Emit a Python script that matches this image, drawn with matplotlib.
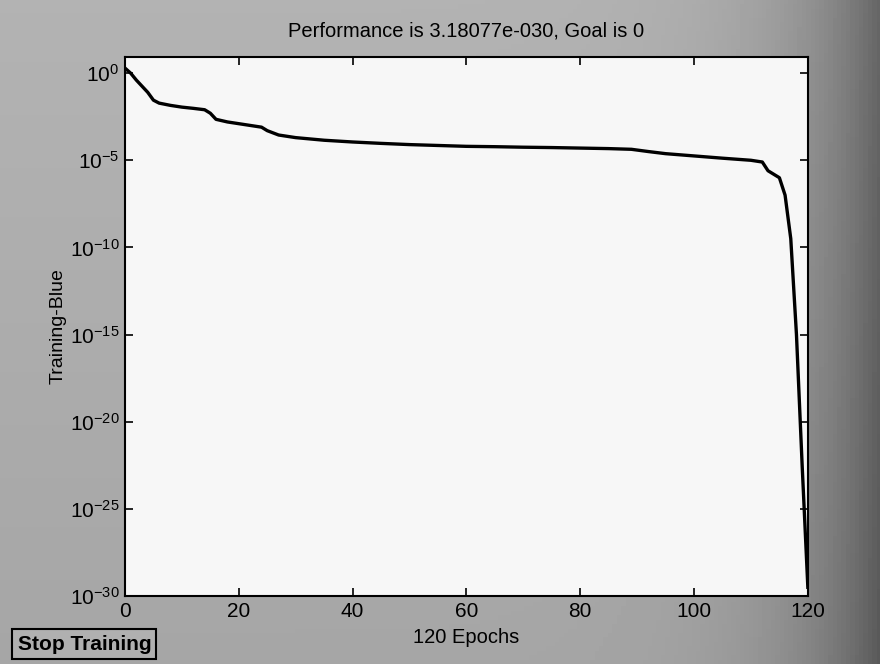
import numpy as np
import matplotlib.pyplot as plt
from matplotlib.ticker import FixedLocator, NullLocator

# training record (epoch, log10 of performance)
epochs = [0, 1, 2, 3, 4, 5, 6, 8, 10, 12, 14, 15, 16, 18, 20, 22, 24, 25, 27,
          30, 35, 40, 45, 50, 55, 60, 65, 70, 75, 80, 85, 89, 92, 95, 100,
          105, 110, 112, 113, 114, 115, 116, 117, 118, 119, 120]
log_perf = [0.29, 0.0, -0.4, -0.75, -1.1, -1.55, -1.72, -1.85, -1.95, -2.02,
            -2.1, -2.3, -2.65, -2.8, -2.9, -3.0, -3.1, -3.3, -3.55,
            -3.7, -3.85, -3.95, -4.03, -4.1, -4.15, -4.2, -4.22, -4.25, -4.27,
            -4.3, -4.33, -4.37, -4.5, -4.62, -4.75,
            -4.88, -5.0, -5.1, -5.6, -5.8, -6.0, -7.0, -9.5, -15.0, -22.5, -29.5]
perf = [10.0 ** v for v in log_perf]

ytick_exp = [0, -5, -10, -15, -20, -25, -30]
xticks = [0, 20, 40, 60, 80, 100, 120]

plt.rcParams['font.family'] = ['Liberation Sans', 'DejaVu Sans']
plt.rcParams['mathtext.fontset'] = 'custom'
plt.rcParams['mathtext.rm'] = 'Liberation Sans'
plt.rcParams['mathtext.it'] = 'Liberation Sans'

fig = plt.figure(figsize=(8.8, 6.64), dpi=100, facecolor='#a4a4a4')

# scanned-window look: grey backdrop, darker towards the right edge
bg = fig.add_axes([0, 0, 1, 1], zorder=-1)
gx = np.linspace(0, 1, 200)
gy = np.linspace(0, 1, 150)
X, Y = np.meshgrid(gx, gy)
shade = 0.70 - 0.30 * X ** 10 - 0.05 * Y
bg.imshow(shade, cmap='gray', vmin=0, vmax=1, aspect='auto',
          extent=[0, 1, 0, 1], origin='upper')
bg.axis('off')

ax = fig.add_axes([0.142, 0.1024, 0.776, 0.8116])
ax.set_facecolor('#f7f7f7')

ax.semilogy(epochs, perf, color='black', linewidth=2.4)

ax.set_xlim(0, 120)
ax.set_ylim(1e-30, 10 ** 0.92)
ax.set_xticks(xticks)
ax.set_xticklabels([str(t) for t in xticks])
ax.yaxis.set_major_locator(FixedLocator([10.0 ** e for e in ytick_exp]))
ax.yaxis.set_minor_locator(NullLocator())
ax.set_yticklabels([r'$10^{%d}$' % e for e in ytick_exp])

ax.tick_params(direction='in', length=6, width=1.2, top=True, right=True,
               labelsize=15, colors='black', pad=4)
for s in ax.spines.values():
    s.set_linewidth(1.5)

ax.set_title('Performance is 3.18077e-030, Goal is 0', fontsize=14.5, pad=15)
ax.set_xlabel('120 Epochs', fontsize=14.5, labelpad=5)
ax.set_ylabel('Training-Blue', fontsize=14, labelpad=2)

fig.text(0.02, 0.030, 'Stop Training', fontsize=15, fontweight='bold',
         va='center', ha='left',
         bbox=dict(boxstyle='square,pad=0.25', facecolor='#b0b0b0',
                   edgecolor='black', linewidth=1.5))

plt.savefig('out.png', dpi=100, facecolor=fig.get_facecolor())
